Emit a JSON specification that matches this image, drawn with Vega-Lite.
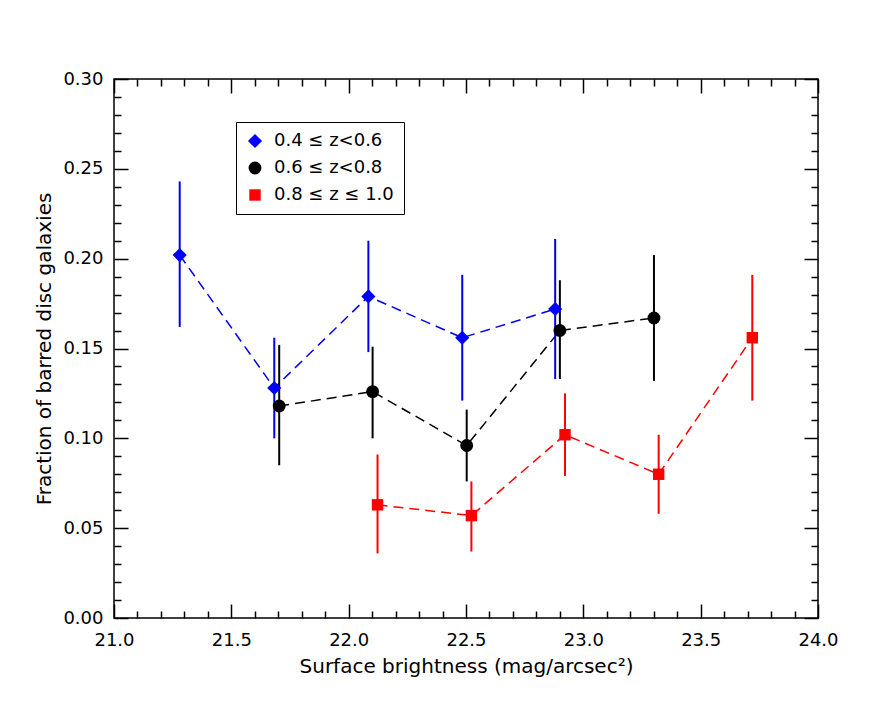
{
  "$schema": "https://vega.github.io/schema/vega-lite/v6.json",
  "width": 704,
  "height": 539,
  "autosize": "none",
  "padding": {"left": 114, "top": 79, "right": 71, "bottom": 93},
  "background": "white",
  "data": {
    "values": [
      {"series": "0.4 ≤ z<0.6", "sb": 21.280, "frac": 0.202, "lo": 0.162, "hi": 0.243},
      {"series": "0.4 ≤ z<0.6", "sb": 21.683, "frac": 0.128, "lo": 0.100, "hi": 0.156},
      {"series": "0.4 ≤ z<0.6", "sb": 22.084, "frac": 0.179, "lo": 0.148, "hi": 0.210},
      {"series": "0.4 ≤ z<0.6", "sb": 22.484, "frac": 0.156, "lo": 0.121, "hi": 0.191},
      {"series": "0.4 ≤ z<0.6", "sb": 22.880, "frac": 0.172, "lo": 0.133, "hi": 0.211},
      {"series": "0.6 ≤ z<0.8", "sb": 21.704, "frac": 0.118, "lo": 0.085, "hi": 0.152},
      {"series": "0.6 ≤ z<0.8", "sb": 22.102, "frac": 0.126, "lo": 0.100, "hi": 0.151},
      {"series": "0.6 ≤ z<0.8", "sb": 22.503, "frac": 0.096, "lo": 0.076, "hi": 0.116},
      {"series": "0.6 ≤ z<0.8", "sb": 22.900, "frac": 0.160, "lo": 0.133, "hi": 0.188},
      {"series": "0.6 ≤ z<0.8", "sb": 23.301, "frac": 0.167, "lo": 0.132, "hi": 0.202},
      {"series": "0.8 ≤ z ≤ 1.0", "sb": 22.123, "frac": 0.063, "lo": 0.036, "hi": 0.091},
      {"series": "0.8 ≤ z ≤ 1.0", "sb": 22.523, "frac": 0.057, "lo": 0.037, "hi": 0.076},
      {"series": "0.8 ≤ z ≤ 1.0", "sb": 22.922, "frac": 0.102, "lo": 0.079, "hi": 0.125},
      {"series": "0.8 ≤ z ≤ 1.0", "sb": 23.321, "frac": 0.080, "lo": 0.058, "hi": 0.102},
      {"series": "0.8 ≤ z ≤ 1.0", "sb": 23.720, "frac": 0.156, "lo": 0.121, "hi": 0.191}
    ]
  },
  "layer": [
    {
      "mark": {"type": "line", "strokeDash": [10, 6], "strokeWidth": 1.5},
      "encoding": {
        "x": {"field": "sb", "type": "quantitative", "scale": {"domain": [21, 24]}, "axis": null},
        "y": {"field": "frac", "type": "quantitative", "scale": {"domain": [0, 0.3]}, "axis": null},
        "stroke": {
          "field": "series", "type": "nominal",
          "scale": {"domain": ["0.4 ≤ z<0.6", "0.6 ≤ z<0.8", "0.8 ≤ z ≤ 1.0"], "range": ["#0000ee", "#000000", "#ff0000"]}
        }
      }
    },
    {
      "mark": {"type": "rule", "strokeWidth": 2},
      "encoding": {
        "x": {"field": "sb", "type": "quantitative", "axis": null},
        "y": {"field": "lo", "type": "quantitative", "axis": null},
        "y2": {"field": "hi"},
        "stroke": {"field": "series", "type": "nominal"}
      }
    },
    {
      "mark": {"type": "point", "filled": true, "opacity": 1},
      "encoding": {
        "x": {
          "field": "sb", "type": "quantitative",
          "title": "Surface brightness (mag/arcsec²)",
          "axis": {
            "orient": "bottom",
            "values": [21.0, 21.1, 21.2, 21.3, 21.4, 21.5, 21.6, 21.7, 21.8, 21.9, 22.0, 22.1, 22.2, 22.3, 22.4, 22.5, 22.6, 22.7, 22.8, 22.9, 23.0, 23.1, 23.2, 23.3, 23.4, 23.5, 23.6, 23.7, 23.8, 23.9, 24.0],
            "labelExpr": "abs(datum.value * 2 - round(datum.value * 2)) < 0.001 ? format(datum.value, '.1f') : ''",
            "tickSize": {"condition": {"test": "abs(datum.value * 2 - round(datum.value * 2)) < 0.001", "value": -14}, "value": -7},
            "labelPadding": 27,
            "titlePadding": 0
          }
        },
        "y": {
          "field": "frac", "type": "quantitative",
          "title": "Fraction of barred disc galaxies",
          "axis": {
            "orient": "left",
            "values": [0, 0.01, 0.02, 0.03, 0.04, 0.05, 0.06, 0.07, 0.08, 0.09, 0.1, 0.11, 0.12, 0.13, 0.14, 0.15, 0.16, 0.17, 0.18, 0.19, 0.2, 0.21, 0.22, 0.23, 0.24, 0.25, 0.26, 0.27, 0.28, 0.29, 0.3],
            "labelExpr": "abs(datum.value * 20 - round(datum.value * 20)) < 0.001 ? format(datum.value, '.2f') : ''",
            "tickSize": {"condition": {"test": "abs(datum.value * 20 - round(datum.value * 20)) < 0.001", "value": -14}, "value": -7},
            "labelPadding": 25,
            "titlePadding": 8
          }
        },
        "color": {
          "field": "series", "type": "nominal",
          "scale": {"domain": ["0.4 ≤ z<0.6", "0.6 ≤ z<0.8", "0.8 ≤ z ≤ 1.0"], "range": ["#0000ff", "#000000", "#ff0000"]},
          "legend": {
            "title": null,
            "orient": "none",
            "legendX": 122,
            "legendY": 43,
            "direction": "vertical",
            "strokeColor": "black",
            "fillColor": "white",
            "padding": 10,
            "rowPadding": 9,
            "labelFont": "DejaVu Sans",
            "labelFontSize": 18,
            "labelColor": "black",
            "labelOffset": 10,
            "symbolStrokeWidth": 0,
            "symbolOpacity": 1
          }
        },
        "shape": {
          "field": "series", "type": "nominal",
          "scale": {"domain": ["0.4 ≤ z<0.6", "0.6 ≤ z<0.8", "0.8 ≤ z ≤ 1.0"], "range": ["diamond", "circle", "square"]}
        },
        "size": {
          "field": "series", "type": "nominal",
          "scale": {"domain": ["0.4 ≤ z<0.6", "0.6 ≤ z<0.8", "0.8 ≤ z ≤ 1.0"], "range": [200, 130, 150]}
        }
      }
    },
    {
      "mark": {"type": "point", "opacity": 0},
      "encoding": {
        "x": {
          "field": "sb", "type": "quantitative",
          "axis": {
            "orient": "top", "title": null, "labels": false,
            "values": [21.0, 21.1, 21.2, 21.3, 21.4, 21.5, 21.6, 21.7, 21.8, 21.9, 22.0, 22.1, 22.2, 22.3, 22.4, 22.5, 22.6, 22.7, 22.8, 22.9, 23.0, 23.1, 23.2, 23.3, 23.4, 23.5, 23.6, 23.7, 23.8, 23.9, 24.0],
            "tickSize": {"condition": {"test": "abs(datum.value * 2 - round(datum.value * 2)) < 0.001", "value": -14}, "value": -7}
          }
        },
        "y": {
          "field": "frac", "type": "quantitative",
          "axis": {
            "orient": "right", "title": null, "labels": false,
            "values": [0, 0.01, 0.02, 0.03, 0.04, 0.05, 0.06, 0.07, 0.08, 0.09, 0.1, 0.11, 0.12, 0.13, 0.14, 0.15, 0.16, 0.17, 0.18, 0.19, 0.2, 0.21, 0.22, 0.23, 0.24, 0.25, 0.26, 0.27, 0.28, 0.29, 0.3],
            "tickSize": {"condition": {"test": "abs(datum.value * 20 - round(datum.value * 20)) < 0.001", "value": -14}, "value": -7}
          }
        }
      }
    }
  ],
  "resolve": {"axis": {"x": "independent", "y": "independent"}},
  "config": {
    "font": "DejaVu Sans",
    "view": {"stroke": "black", "strokeWidth": 1.5},
    "axis": {
      "domain": false,
      "grid": false,
      "tickColor": "black",
      "tickWidth": 1.5,
      "labelFont": "DejaVu Sans",
      "labelFontSize": 18,
      "labelColor": "black",
      "titleFont": "DejaVu Sans",
      "titleFontSize": 20,
      "titleFontWeight": "normal",
      "titleColor": "black",
      "labelFlush": false,
      "labelOverlap": false
    }
  }
}
